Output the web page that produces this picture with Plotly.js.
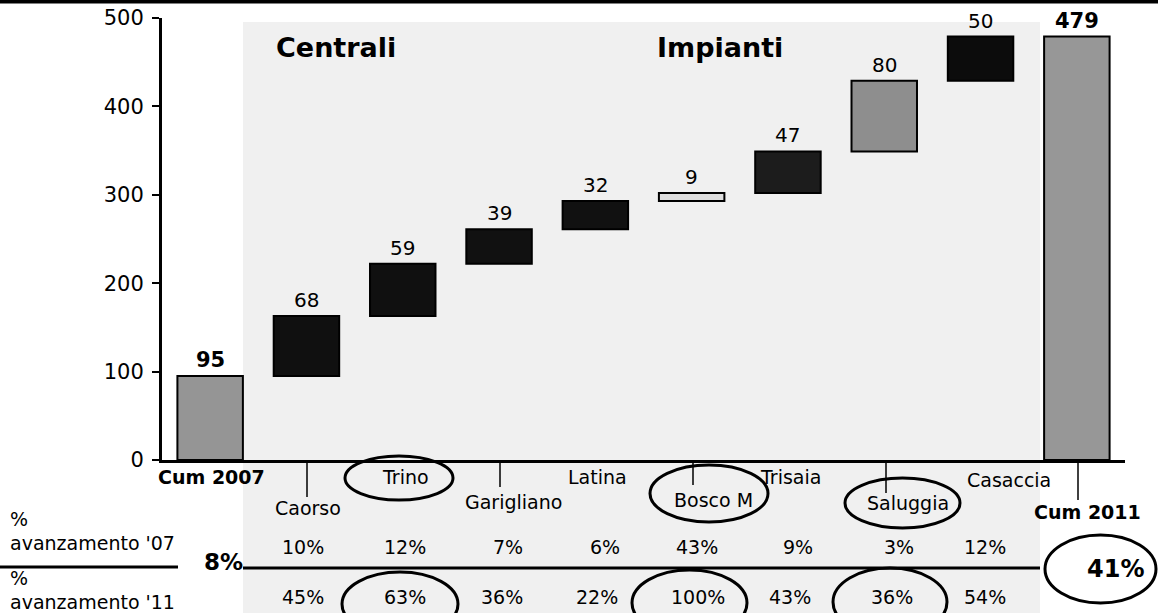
<!DOCTYPE html>
<html>
<head>
<meta charset="utf-8">
<script src="https://cdn.plot.ly/plotly-3.0.1.min.js"></script>
<style>html,body{margin:0;padding:0;background:#fff;}#chart{width:1158px;height:613px;}</style>
</head>
<body>
<div id="chart"></div>
<script>
// ---- data ----
const categories = ['Cum 2007','Caorso','Trino','Garigliano','Latina','Bosco M','Trisaia','Saluggia','Casaccia','Cum 2011'];
const values = [95, 68, 59, 39, 32, 9, 47, 80, 50, 479];
const kinds = ['total','delta','delta','delta','delta','delta','delta','delta','delta','total'];
const pct07 = ['10%','12%','7%','6%','43%','9%','3%','12%'];
const pct11 = ['45%','63%','36%','22%','100%','43%','36%','54%'];
const pctTotal07 = '8%';
const pctTotal11 = '41%';
const sectionLabels = ['Centrali','Impianti'];
const rowLabels = ["avanzamento '07", "avanzamento '11"];

// ---- styles / layout helpers ----
const FONT = 'DejaVu Sans, Verdana, sans-serif';
const barColors = ['#959595','#101010','#101010','#111111','#111111','#dedede','#1c1c1c','#8e8e8e','#0c0c0c','#979797'];
const L = 162, R = 1125, T = 18, B = 460;
const W = R - L, H = B - T;
const px = p => (p - L) / W;
const py = p => (B - p) / H;
const catCenter = i => L + W * (i + 0.5) / categories.length;

// label pixel positions (layout)
const catLabelPos = [[211,477],[308,508],[405,477],[513,502],[597,477],[713,500],[790,477],[908,503],[1009,480],[1087,512]];
const pct07X = [303,405,508,605,697,798,899,985];
const pct11X = [303,405,502,597,698,790,892,985];

// bases from running sum
const bases = [];
let run = 0;
values.forEach((v, i) => {
  if (kinds[i] === 'total') { bases.push(0); run = v; }
  else { bases.push(run); run += v; }
});

const trace = {
  type: 'bar',
  x: categories,
  y: values,
  base: bases,
  width: 0.68,
  marker: { color: barColors, line: { color: '#000', width: 2 } },
  hoverinfo: 'none'
};

const annotations = [];
const ann = o => annotations.push(Object.assign({ showarrow: false, xanchor: 'center', yanchor: 'middle' }, o));
// value labels
values.forEach((v, i) => {
  ann({
    xref: 'x', yref: 'y', x: categories[i], y: bases[i] + v,
    text: kinds[i] === 'total' ? '<b>' + v + '</b>' : String(v),
    yanchor: 'bottom', yshift: 2,
    font: { family: FONT, size: kinds[i] === 'total' ? 21 : 20, color: '#000' }
  });
});
// category labels
categories.forEach((c, i) => {
  const [lx, ly] = catLabelPos[i];
  ann({
    xref: 'x', yref: 'paper', x: c, y: py(ly), xshift: lx - catCenter(i),
    text: kinds[i] === 'total' ? '<b>' + c + '</b>' : c,
    font: { family: FONT, size: kinds[i] === 'total' ? 19 : 19, color: '#000' }
  });
});
// percentage rows
pct07.forEach((t, k) => {
  const i = k + 1;
  ann({ xref: 'x', yref: 'paper', x: categories[i], y: py(547), xshift: pct07X[k] - catCenter(i),
    text: t, font: { family: FONT, size: 19, color: '#000' } });
});
pct11.forEach((t, k) => {
  const i = k + 1;
  ann({ xref: 'x', yref: 'paper', x: categories[i], y: py(597), xshift: pct11X[k] - catCenter(i),
    text: t, font: { family: FONT, size: 19, color: '#000' } });
});
ann({ xref: 'paper', yref: 'paper', x: px(223), y: py(562), text: '<b>' + pctTotal07 + '</b>',
  font: { family: FONT, size: 23, color: '#000' } });
ann({ xref: 'paper', yref: 'paper', x: px(1115), y: py(569), text: '<b>' + pctTotal11 + '</b>',
  font: { family: FONT, size: 24, color: '#000' } });
// row labels
[[519, '%'], [543, rowLabels[0]], [578, '%'], [602, rowLabels[1]]].forEach(([y, t]) => {
  ann({ xref: 'paper', yref: 'paper', x: px(8), y: py(y), xanchor: 'left', text: t,
    font: { family: FONT, size: 19, color: '#000' } });
});
// section titles
ann({ xref: 'paper', yref: 'paper', x: px(274), y: py(47), xanchor: 'left', text: '<b>' + sectionLabels[0] + '</b>',
  font: { family: FONT, size: 27, color: '#000' } });
ann({ xref: 'paper', yref: 'paper', x: px(655), y: py(47), xanchor: 'left', text: '<b>' + sectionLabels[1] + '</b>',
  font: { family: FONT, size: 27, color: '#000' } });

const shapes = [];
// textured background area
shapes.push({ type: 'rect', xref: 'paper', yref: 'paper', x0: px(243), x1: px(1040), y0: py(613), y1: py(22),
  fillcolor: '#f0f0f0', line: { width: 0 }, layer: 'below' });
// top border
shapes.push({ type: 'line', xref: 'paper', yref: 'paper', x0: px(0), x1: px(1158), y0: py(1.5), y1: py(1.5),
  line: { color: '#000', width: 4 } });
// small tick lines below axis
[[307,497],[500,487],[693,485],[886,493],[1078,500]].forEach(([x, y2]) => {
  shapes.push({ type: 'line', xref: 'paper', yref: 'paper', x0: px(x), x1: px(x), y0: py(462), y1: py(y2),
    line: { color: '#000', width: 1.5 } });
});
// divider lines
shapes.push({ type: 'line', xref: 'paper', yref: 'paper', x0: px(0), x1: px(178), y0: py(567), y1: py(567), line: { color: '#000', width: 3 } });
shapes.push({ type: 'line', xref: 'paper', yref: 'paper', x0: px(243), x1: px(1040), y0: py(568), y1: py(568), line: { color: '#000', width: 3 } });
// ellipses
[[345,453,456,500],[650,768,465,522],[845,960,478,528],[1045,1156,535,603],[342,458,572,636],[632,747,570,636],[833,947,568,636]].forEach(([x0,x1,y0,y1]) => {
  shapes.push({ type: 'circle', xref: 'paper', yref: 'paper', x0: px(x0), x1: px(x1), y0: py(y1), y1: py(y0),
    line: { color: '#000', width: 3 }, fillcolor: 'rgba(0,0,0,0)' });
});

const layout = {
  width: 1158, height: 613,
  margin: { l: L, r: 1158 - R, t: T, b: 613 - B, pad: 0 },
  paper_bgcolor: '#ffffff', plot_bgcolor: 'rgba(0,0,0,0)',
  showlegend: false,
  xaxis: { type: 'category', range: [-0.5, categories.length - 0.5], showticklabels: false, ticks: '',
    showline: true, linecolor: '#000', linewidth: 3, showgrid: false, zeroline: false, fixedrange: true },
  yaxis: { range: [0, 500], tickvals: [0,100,200,300,400,500], ticks: 'outside', ticklen: 7, tickwidth: 2, tickcolor: '#000',
    showline: true, linecolor: '#000', linewidth: 3, showgrid: false, zeroline: false, ticklabelstandoff: 4,
    tickfont: { family: FONT, size: 21, color: '#000' }, fixedrange: true },
  annotations: annotations,
  shapes: shapes
};

Plotly.newPlot('chart', [trace], layout, { displayModeBar: false, staticPlot: true });
</script>
</body>
</html>
